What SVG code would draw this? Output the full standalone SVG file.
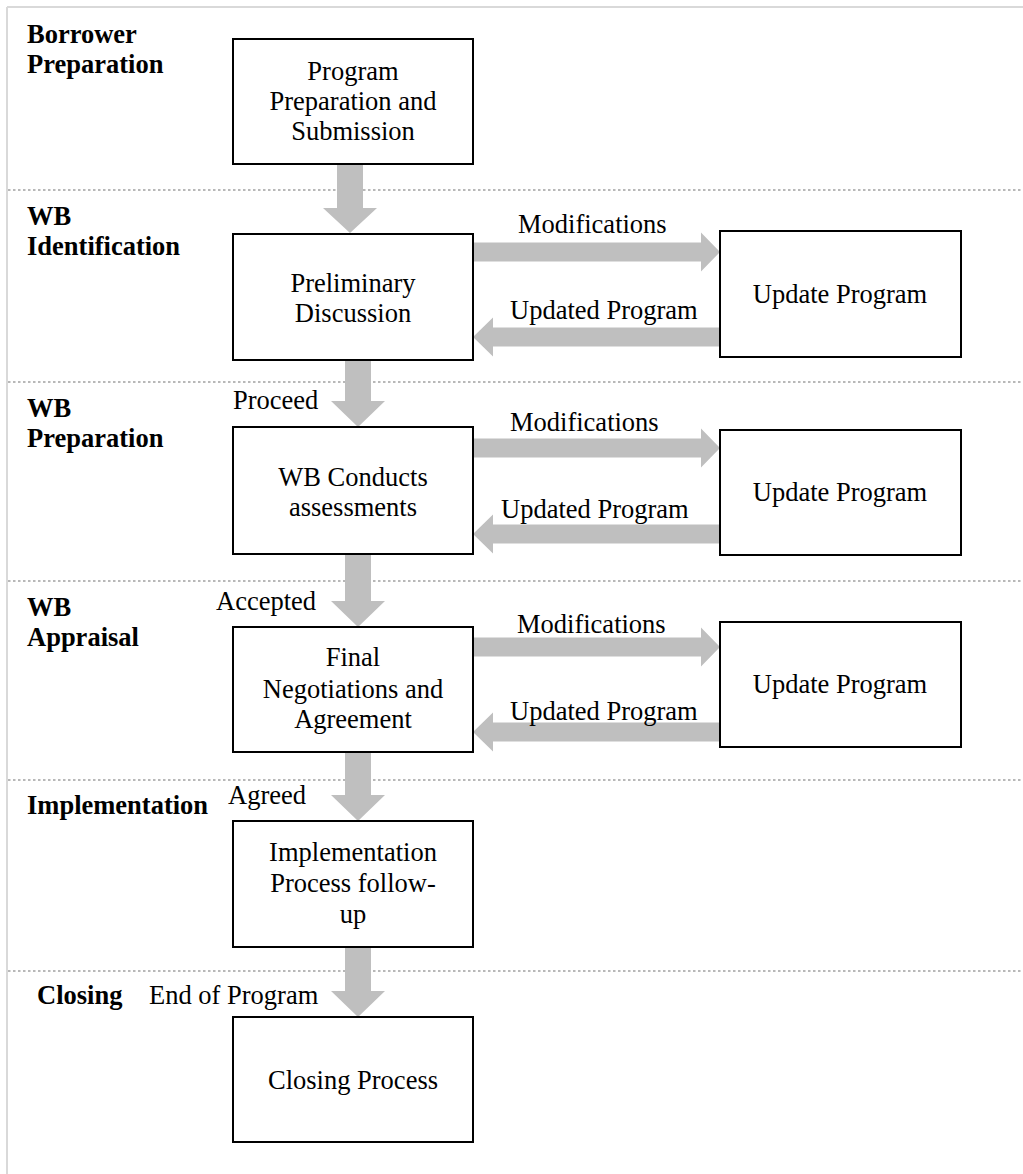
<svg xmlns="http://www.w3.org/2000/svg" width="1023" height="1174" viewBox="0 0 1023 1174">
<style>
.frame{stroke:#d9d9d9;stroke-width:2;fill:none}
.sep{stroke:#b8b8b8;stroke-width:2;stroke-dasharray:2.5 2.5;fill:none}
.box{fill:#ffffff;stroke:#000000;stroke-width:2}
.arr{fill:#bfbfbf;stroke:none}
text{font-family:"Liberation Serif","Times New Roman",serif;font-size:26.5px;fill:#000000}
.lbl{font-weight:bold}
.c{text-anchor:middle}
</style>
<defs>
<polygon id="arrR" points="0,-9.5 228,-9.5 228,-19.5 247,0 228,19.5 228,9.5 0,9.5"/>
<polygon id="arrL" points="0,0 20,-19.5 20,-9.5 247,-9.5 247,9.5 20,9.5 20,19.5"/>
</defs>
<rect width="1023" height="1174" fill="#ffffff"/>
<g id="frame">
<line class="frame" x1="7" y1="7" x2="1023" y2="7"/>
<line class="frame" x1="7" y1="7" x2="7" y2="1174"/>
<line class="sep" x1="8" y1="190" x2="1023" y2="190"/>
<line class="sep" x1="8" y1="382" x2="1023" y2="382"/>
<line class="sep" x1="8" y1="581" x2="1023" y2="581"/>
<line class="sep" x1="8" y1="780" x2="1023" y2="780"/>
<line class="sep" x1="8" y1="971" x2="1023" y2="971"/>
</g>
<g id="lanes">
<text class="lbl" x="27" y="43">Borrower</text>
<text class="lbl" x="27" y="73">Preparation</text>
<text class="lbl" x="27" y="225">WB</text>
<text class="lbl" x="27" y="255">Identification</text>
<text class="lbl" x="27" y="417">WB</text>
<text class="lbl" x="27" y="447">Preparation</text>
<text class="lbl" x="27" y="616">WB</text>
<text class="lbl" x="27" y="646">Appraisal</text>
<text class="lbl" x="27" y="814">Implementation</text>
<text class="lbl" x="37" y="1004">Closing</text>
</g>
<g id="connectors">
<polygon class="arr" points="337,164 363,164 363,208 377,208 350,233 323,208 337,208"/>
<polygon class="arr" points="345,360 371,360 371,401 385,401 358,427 331,401 345,401"/>
<polygon class="arr" points="345,554 371,554 371,601 385,601 358,627 331,601 345,601"/>
<polygon class="arr" points="345,752 371,752 371,795 385,795 358,821 331,795 345,795"/>
<polygon class="arr" points="345,947 371,947 371,991 385,991 358,1017 331,991 345,991"/>
<use href="#arrR" class="arr" transform="translate(473,252)"/>
<use href="#arrL" class="arr" transform="translate(473,337)"/>
<use href="#arrR" class="arr" transform="translate(473,448)"/>
<use href="#arrL" class="arr" transform="translate(473,534)"/>
<use href="#arrR" class="arr" transform="translate(473,647)"/>
<use href="#arrL" class="arr" transform="translate(473,732)"/>
<text x="518" y="233">Modifications</text>
<text x="510" y="319">Updated Program</text>
<text x="510" y="431">Modifications</text>
<text x="501" y="518">Updated Program</text>
<text x="517" y="633">Modifications</text>
<text x="510" y="720">Updated Program</text>
<text x="233" y="409">Proceed</text>
<text x="216" y="610">Accepted</text>
<text x="228" y="804">Agreed</text>
<text x="149" y="1004">End of Program</text>
</g>
<g id="n1">
<rect class="box" x="233" y="39" width="240" height="125"/>
<text class="c" x="353" y="80">Program</text>
<text class="c" x="353" y="110">Preparation and</text>
<text class="c" x="353" y="140">Submission</text>
</g>
<g id="n2">
<rect class="box" x="233" y="234" width="240" height="126"/>
<text class="c" x="353" y="292">Preliminary</text>
<text class="c" x="353" y="322">Discussion</text>
</g>
<g id="n2u">
<rect class="box" x="720" y="231" width="241" height="126"/>
<text class="c" x="840" y="303">Update Program</text>
</g>
<g id="n3">
<rect class="box" x="233" y="427" width="240" height="127"/>
<text class="c" x="353" y="486">WB Conducts</text>
<text class="c" x="353" y="516">assessments</text>
</g>
<g id="n3u">
<rect class="box" x="720" y="430" width="241" height="125"/>
<text class="c" x="840" y="501">Update Program</text>
</g>
<g id="n4">
<rect class="box" x="233" y="627" width="240" height="125"/>
<text class="c" x="353" y="666">Final</text>
<text class="c" x="353" y="698">Negotiations and</text>
<text class="c" x="353" y="728">Agreement</text>
</g>
<g id="n4u">
<rect class="box" x="720" y="622" width="241" height="125"/>
<text class="c" x="840" y="693">Update Program</text>
</g>
<g id="n5">
<rect class="box" x="233" y="821" width="240" height="126"/>
<text class="c" x="353" y="861">Implementation</text>
<text class="c" x="353" y="892">Process follow-</text>
<text class="c" x="353" y="923">up</text>
</g>
<g id="n6">
<rect class="box" x="233" y="1017" width="240" height="125"/>
<text class="c" x="353" y="1089">Closing Process</text>
</g>
</svg>
